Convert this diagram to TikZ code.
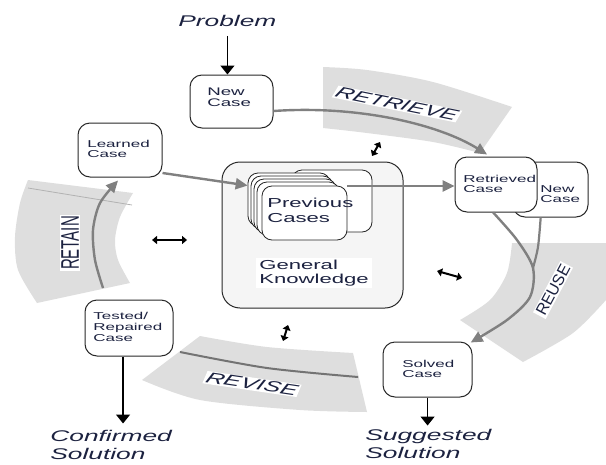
\documentclass[tikz,border=0pt]{standalone}
\usepackage{fontspec}
\setmainfont{Liberation Sans}
\usetikzlibrary{arrows.meta,calc}
\definecolor{txt}{RGB}{28,34,64}
\definecolor{bandc}{RGB}{222,222,222}
\definecolor{linec}{RGB}{128,128,128}
\definecolor{boxc}{RGB}{40,40,40}
\definecolor{gkfill}{RGB}{245,245,245}
\begin{document}
\begin{tikzpicture}[x=0.588235pt, y=-1pt, xscale=1.7,
  band/.style={fill=bandc},
  casebox/.style={draw=boxc, fill=white, line width=1pt, rounded corners=12pt, inner sep=0pt},
  card/.style={draw=black!85, fill=white, line width=0.8pt, rounded corners=10pt, inner sep=0pt},
  boxtext/.style={transform shape, anchor=north west, inner sep=0pt, align=left, text=txt, font=\fontsize{10}{10.5}\selectfont},
  bigtext/.style={transform shape, anchor=north west, inner sep=0pt, align=left, text=txt, font=\fontsize{15.5}{18}\selectfont\itshape},
  phase/.style={transform shape, fill=white, inner sep=1pt, text=txt},
  flatphase/.style={fill=white, inner sep=1.5pt, text=txt},
  grayarrow/.style={draw=linec, line width=2.4pt, -{Triangle[length=12pt,width=11pt]}},
  grayline/.style={draw=linec, line width=2.2pt},
  blackarrow/.style={draw=black, line width=1.4pt, -{Triangle[length=9pt,width=14pt]}},
  dbl/.style={draw=black, line width=2pt, {Triangle[length=5pt,width=8pt]}-{Triangle[length=5pt,width=8pt]}},
]
\useasboundingbox (0,0) rectangle (606,464);

% ---------- bands ----------
\fill[band] plot[smooth] coordinates {(323,67) (367,70) (433,82) (512,107)} -- (480,153)
  -- plot[smooth] coordinates {(480,153) (433,142) (367,133) (323,128)} -- cycle;
\fill[band] plot[smooth] coordinates {(512,243) (507,273) (490,300) (460,320)} -- (523,362)
  -- plot[smooth] coordinates {(523,362) (573,333) (606,300)} -- (606,243) -- cycle;
\fill[band] plot[smooth] coordinates {(200,336) (267,347) (353,353)} -- (367,412)
  -- plot[smooth] coordinates {(367,412) (300,410) (200,400) (142,380)} -- cycle;
\fill[band] plot[smooth] coordinates {(28,180) (20,203) (15,237) (18,270) (37,303)} -- (130,283)
  -- plot[smooth] coordinates {(130,283) (118,260) (115,240) (120,217) (133,193)} -- cycle;
\draw[black!30, line width=0.8pt] (28,188) -- (132,205);

% ---------- knowledge box and case stack ----------
\node[draw=boxc, fill=gkfill, line width=1pt, rounded corners=18pt, minimum width=181pt, minimum height=146pt] (gk) at (312.5,235) {};
\node[card, minimum width=80pt, minimum height=62pt] (cardR) at (332,201) {};
\node[card, minimum width=82pt, minimum height=53pt] (card0) at (289,199.5) {};
\node[card, minimum width=82pt, minimum height=53pt] (card1) at (292,202.5) {};
\node[card, minimum width=82pt, minimum height=53pt] (card2) at (295,205.5) {};
\node[card, minimum width=82pt, minimum height=53pt] (card3) at (298,208.5) {};
\node[card, minimum width=85pt, minimum height=54pt] (front) at (304.5,213) {};

% ---------- case boxes ----------
\node[casebox, minimum width=83pt, minimum height=53pt] (newcase) at (231.5,101.5) {};
\node[casebox, minimum width=84pt, minimum height=54pt] (learned) at (120,150) {};
\node[casebox, minimum width=75pt, minimum height=55pt] (newcase2) at (550.5,189.5) {};
\node[casebox, minimum width=82pt, minimum height=55pt] (retrieved) at (496,184.5) {};
\node[casebox, minimum width=89pt, minimum height=55pt] (solved) at (427.5,369.5) {};
\node[casebox, minimum width=88pt, minimum height=56pt] (tested) at (129,328) {};

% ---------- texts ----------
\node[boxtext, font=\fontsize{11}{11}\selectfont] (newcaset) at (207,88) {New\\Case};
\node[boxtext] (learnedt) at (87,140) {Learned\\Case};
\node[boxtext] (newcase2t) at (540,185) {New\\Case};
\node[boxtext] (retrievedt) at (463,175) {Retrieved\\Case};
\node[boxtext] (solvedt) at (402,360) {Solved\\Case};
\node[boxtext, font=\fontsize{10}{11}\selectfont] (testedt) at (93,312) {Tested/\\Repaired\\Case};
\node[boxtext, font=\fontsize{13}{15}\selectfont] (prevt) at (267,198) {Previous\\Cases};
\node[transform shape, fill=white, inner sep=2pt, align=left, text=txt, font=\fontsize{13}{14}\selectfont] (gkt) at (314,273) {General\\Knowledge};

\node[bigtext] (problem) at (178,15) {Problem};
\node[bigtext] (confirmed) at (50,430) {Confirmed\\Solution};
\node[bigtext] (suggested) at (365,429) {Suggested\\Solution};

% ---------- connectors ----------
\draw[blackarrow] ($(problem.south)+(0,9)$) -- (problem.south |- newcase.north);
\coordinate (ctop) at ($(tested.south)+(-6,0)$);
\coordinate (ctip) at ($(tested.south)+(-6,67)$);
\draw[blackarrow] (ctop) -- (ctip);
\draw[blackarrow] (solved.south) -- ++(0,28);

\draw[grayarrow] ($(learned.east)+(0,23)$) -- ($(card0.west)+(0,-14)$);
\draw[grayarrow] ($(front.east)+(0,-27)$) -- ($(retrieved.west)+(0,1.5)$);
\draw[grayarrow] ($(newcase.east)+(0,9.5)$) .. controls (360,105) and (440,125) .. ($(retrieved.north)+(-9,-2)$);

\coordinate (rA) at ($(retrieved.south)+(-3,0)$);
\coordinate (rB) at ($(newcase2.south)+(-10,0)$);
\coordinate (rEnd) at ($(solved.north east)+(-2,1)$);
\draw[grayline] plot[smooth] coordinates {(rB) (538,247) (533,268)};
\draw[grayarrow] plot[smooth] coordinates {(rA) (517,240) (533,268) (530,297) (507,320) (rEnd)};

\coordinate (retainstart) at (103,288);
\coordinate (retainend) at ($(learned.south)+(-2,3)$);
\draw[grayarrow] plot[smooth] coordinates {(retainstart) (95,260) (93,230) (100,203) (retainend)};

\coordinate (revA) at (180,352);
\coordinate (revB) at (358,377);
\draw[draw=black!55, line width=2pt] plot[smooth] coordinates {(revA) (267,368) (revB)};

% ---------- double arrows ----------
\coordinate (d1a) at (380,142); \coordinate (d1b) at (372,156);
\coordinate (d2a) at (152,240); \coordinate (d2b) at (187,240);
\coordinate (d3a) at (437,271); \coordinate (d3b) at (462,278);
\coordinate (d4a) at (288,325); \coordinate (d4b) at (283,341);
\draw[dbl] (d1a) -- (d1b);
\draw[dbl] (d2a) -- (d2b);
\draw[dbl] (d3a) -- (d3b);
\draw[dbl] (d4a) -- (d4b);

% ---------- phase labels ----------
\node[phase, font=\fontsize{15}{15}\selectfont\itshape, rotate=-19] (retrievel) at (397,104) {RETRIEVE};
\node[phase, font=\fontsize{15}{15}\selectfont\itshape, rotate=-14] (revisel) at (252,384) {REVISE};
\node[flatphase, font=\fontsize{16}{16}\selectfont, rotate=62] (reusel) at (553,290) {REUSE};
\node[phase, font=\fontsize{15}{15}\selectfont, rotate=90] (retainl) at (70,243) {RETAIN};
\end{tikzpicture}
\end{document}
